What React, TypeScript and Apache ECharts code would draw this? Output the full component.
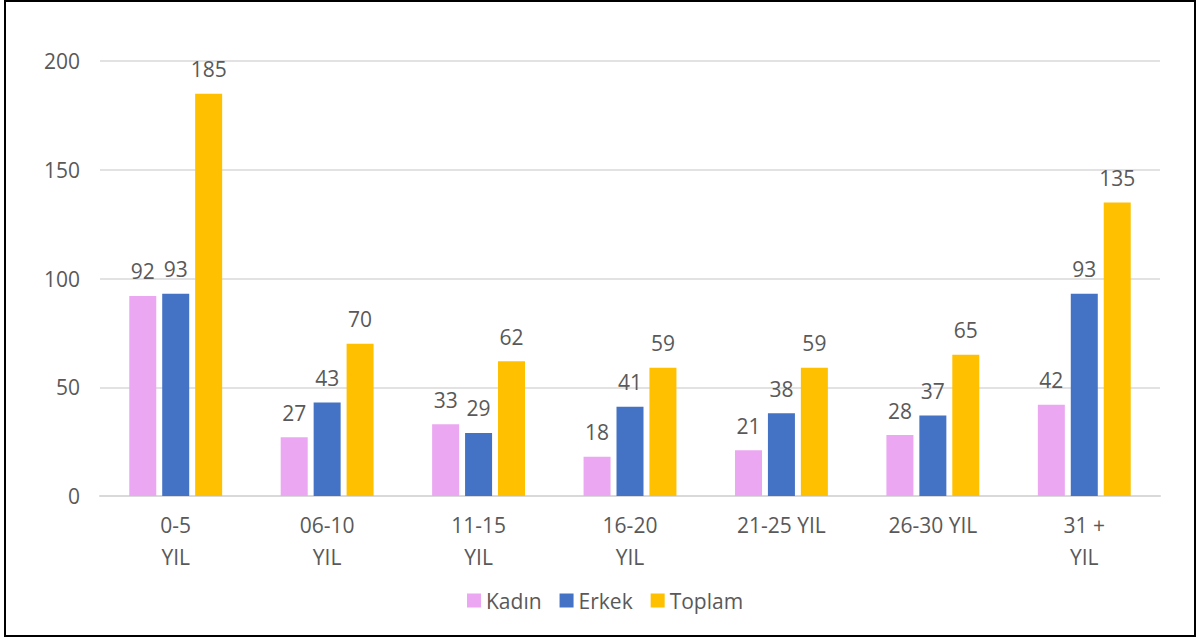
import React, { useEffect, useRef } from "react";
import * as echarts from "echarts";

const categories = ["0-5\nYIL", "06-10\nYIL", "11-15\nYIL", "16-20\nYIL", "21-25 YIL", "26-30 YIL", "31 +\nYIL"];
const kadin = [92, 27, 33, 18, 21, 28, 42];
const erkek = [93, 43, 29, 41, 38, 37, 93];
const toplam = [185, 70, 62, 59, 59, 65, 135];
const seriesNames = ["Kadın", "Erkek", "Toplam"];
const colors = ["#EBA7F1", "#4472C4", "#FFC000"];

const FONT = "Open Sans";
const TEXT = "#595959";
const FS = 21;

export default function App() {
  const ref = useRef<HTMLDivElement>(null);
  useEffect(() => {
    document.body.style.margin = "0";
    const chart = echarts.init(ref.current!, null, { renderer: "svg" });
    const mk = (name: string, data: number[], color: string) => ({
      name,
      type: "bar",
      data,
      barWidth: 27,
      barGap: "22%",
      itemStyle: { color },
      label: {
        show: true,
        position: "top",
        distance: 14,
        color: TEXT,
        fontFamily: FONT,
        fontSize: FS,
      },
    });
    chart.setOption({
      animation: false,
      backgroundColor: "#fff",
      textStyle: { fontFamily: FONT },
      graphic: [
        {
          type: "rect",
          shape: { x: 5, y: 1, width: 1190, height: 635 },
          style: { fill: "none", stroke: "#000", lineWidth: 2 },
          silent: true,
        },
      ],
      grid: { left: 100, right: 42, top: 61, bottom: 142 },
      legend: {
        top: 585,
        left: 462,
        itemWidth: 14,
        itemHeight: 14,
        itemGap: 18,
        icon: "rect",
        textStyle: { color: TEXT, fontFamily: FONT, fontSize: FS },
        data: seriesNames,
      },
      xAxis: {
        type: "category",
        data: categories,
        axisLine: { lineStyle: { color: "#D9D9D9", width: 2 } },
        axisTick: { show: false },
        axisLabel: {
          color: TEXT,
          fontFamily: FONT,
          fontSize: FS,
          lineHeight: 32,
          margin: 13,
          interval: 0,
        },
      },
      yAxis: {
        type: "value",
        min: 0,
        max: 200,
        interval: 50,
        axisLine: { show: false },
        axisTick: { show: false },
        splitLine: { lineStyle: { color: "#D9D9D9", width: 1.5 } },
        axisLabel: { color: TEXT, fontFamily: FONT, fontSize: FS, margin: 20 },
      },
      series: [
        mk(seriesNames[0], kadin, colors[0]),
        mk(seriesNames[1], erkek, colors[1]),
        mk(seriesNames[2], toplam, colors[2]),
      ],
    });
    return () => chart.dispose();
  }, []);
  return <div ref={ref} style={{ width: 1202, height: 638 }} />;
}
